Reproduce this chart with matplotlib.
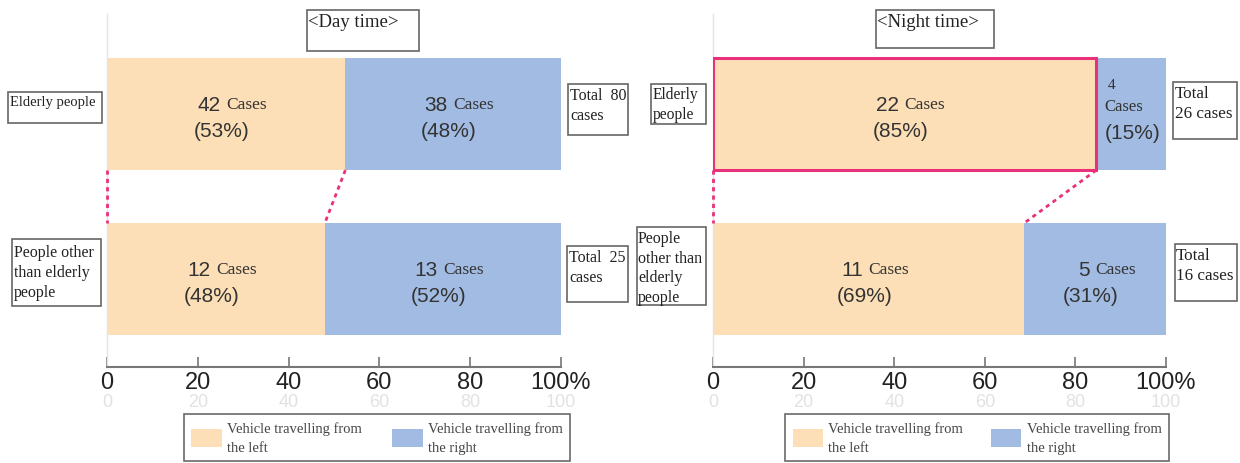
import matplotlib
matplotlib.use('Agg')
import matplotlib.pyplot as plt
from matplotlib.patches import Rectangle, Patch

# data
groups = ['Elderly people', 'People other than elderly people']
day_left = [42, 12]
day_right = [38, 13]
day_left_pct = [53, 48]
day_right_pct = [48, 52]
night_left = [22, 11]
night_right = [4, 5]
night_left_pct = [85, 69]
night_right_pct = [15, 31]
tick_vals = [0, 20, 40, 60, 80, 100]
tick_labels = ['0', '20', '40', '60', '80', '100%']
legend_labels = ['Vehicle travelling from\nthe left', 'Vehicle travelling from\nthe right']

ORANGE = '#FCDFB6'
BLUE = '#A2BBE2'
PINK = '#E8317A'
SANS = ['Liberation Sans Narrow', 'Liberation Sans', 'DejaVu Sans']
SERIF = ['Liberation Serif', 'DejaVu Serif']

W, H = 1240, 464
fig = plt.figure(figsize=(W / 100, H / 100), dpi=100)


def px(x, y):
    return x / W, 1 - y / H


def box(x0, y0, x1, y1, text, size=11.5, padx=2, pady=3, ls=1.35):
    fx, fy = px(x0, y1)
    fig.add_artist(Rectangle((fx, fy), (x1 - x0) / W, (y1 - y0) / H,
                             transform=fig.transFigure, fill=False,
                             edgecolor='#666666', linewidth=1.2))
    tx, ty = px(x0 + padx, y0 + pady)
    fig.text(tx, ty, text, family=SERIF, fontsize=size, va='top', ha='left',
             color='#222222', linespacing=ls)


def seg_label(ax, xc, y, n, pct, narrow):
    if narrow:
        ax.annotate(str(n), (xc, y), xytext=(-14, 21), textcoords='offset points',
                    family=SERIF, fontsize=11, ha='center', va='center', color='#333')
        ax.annotate('Cases', (xc, y), xytext=(-19, 6), textcoords='offset points',
                    family=SERIF, fontsize=12, ha='left', va='center', color='#333')
        ax.annotate('(%d%%)' % pct, (xc, y), xytext=(1, -13), textcoords='offset points',
                    family=SANS, fontsize=15, ha='center', va='center', color='#333')
    else:
        ax.annotate(str(n), (xc, y), xytext=(-4, 7), textcoords='offset points',
                    family=SANS, fontsize=15, ha='right', va='center', color='#333')
        ax.annotate('Cases', (xc, y), xytext=(0, 7.5), textcoords='offset points',
                    family=SERIF, fontsize=12.5, ha='left', va='center', color='#333')
        ax.annotate('(%d%%)' % pct, (xc, y), xytext=(-3, -12), textcoords='offset points',
                    family=SANS, fontsize=15, ha='center', va='center', color='#333')


def panel(rect, left, right, lpct, rpct, highlight, leg_anchor, colsp):
    ax = fig.add_axes(rect)
    ypos = [1, 0]
    h = 0.68
    shares = [100 * l / (l + r) for l, r in zip(left, right)]
    for i in range(len(groups)):
        s = shares[i]
        ec = PINK if highlight == i else 'none'
        lw = 2.2 if highlight == i else 0
        ax.barh(ypos[i], s, height=h, color=ORANGE, edgecolor=ec, linewidth=lw,
                zorder=3 if highlight == i else 2)
        ax.barh(ypos[i], 100 - s, left=s, height=h, color=BLUE, linewidth=0, zorder=1)
        seg_label(ax, s / 2, ypos[i], left[i], lpct[i], False)
        seg_label(ax, s + (100 - s) / 2, ypos[i], right[i], rpct[i], (100 - s) < 20)

    # connector lines between the two bars
    y_top = ypos[0] - h / 2
    y_bot = ypos[1] + h / 2
    ax.plot([0, 0], [y_top, y_bot], color=PINK, lw=2, ls=(0, (1.5, 1.5)), clip_on=False, zorder=4)
    ax.plot([shares[0], shares[1]], [y_top, y_bot], color=PINK, lw=2, ls=(0, (1.5, 1.5)),
            clip_on=False, zorder=4)

    ax.set_xlim(0, 100)
    ax.set_ylim(-0.533, 1.606)
    ax.set_yticks([])
    ax.set_xticks(tick_vals)
    ax.set_xticklabels(tick_labels, family=SANS, fontsize=17, color='#222')
    ax.tick_params(axis='x', direction='in', length=7, width=1.2, color='#777', pad=3)
    for sp in ['top', 'right']:
        ax.spines[sp].set_visible(False)
    ax.spines['bottom'].set_color('#777')
    ax.spines['bottom'].set_linewidth(1.5)
    ax.spines['left'].set_color('#e4e4e4')
    ax.spines['left'].set_linewidth(1)

    # faint duplicate labels underneath
    for v in tick_vals:
        ax.text(v, -0.097, str(v), transform=ax.get_xaxis_transform(), family=SANS,
                fontsize=13, color='#e2e2e2', ha='center', va='center')

    handles = [Patch(facecolor=ORANGE), Patch(facecolor=BLUE)]
    leg = ax.legend(handles, legend_labels, loc='upper center', ncol=2,
                    bbox_to_anchor=leg_anchor, bbox_transform=fig.transFigure,
                    prop={'family': SERIF, 'size': 10.5}, frameon=True, fancybox=False,
                    handlelength=2.1, handleheight=1.5, handletextpad=0.35,
                    borderaxespad=0, borderpad=0.5, columnspacing=colsp)
    leg.get_frame().set_edgecolor('#444444')
    leg.get_frame().set_linewidth(1.2)
    for t in leg.get_texts():
        t.set_color('#444')
        t.set_linespacing(1.55)
    return ax


def frac_rect(x0, x1, y0, y1):
    return [x0 / W, 1 - y1 / H, (x1 - x0) / W, (y1 - y0) / H]


panel(frac_rect(107, 561, 15, 368), day_left, day_right, day_left_pct, day_right_pct,
      None, (377 / W, 1 - 415 / H), 2.1)
panel(frac_rect(713, 1166, 15, 368), night_left, night_right, night_left_pct, night_right_pct,
      0, (977 / W, 1 - 415 / H), 1.9)

# title boxes
box(307, 11, 419, 52, '<Day time>', size=13.5, padx=1, pady=3)
box(876, 11, 994, 49, '<Night time>', size=13.5, padx=1, pady=3)

# category and total boxes
box(8, 93, 102, 124, 'Elderly people', size=10.5, padx=2, pady=3)
box(12, 240, 101, 307, 'People other\nthan elderly\npeople', size=11.5, padx=2, pady=5)
box(568, 85, 628, 136, 'Total  80\ncases', size=11.5, padx=2, pady=3)
box(567, 247, 628, 303, 'Total  25\ncases', size=11.5, padx=2, pady=3)
box(651, 85, 706, 125, 'Elderly\npeople', size=11.2, padx=2, pady=2, ls=1.3)
box(637, 228, 706, 306, 'People\nother than\nelderly\npeople', size=11.5, padx=1, pady=3, ls=1.3)
box(1173, 83, 1237, 140, 'Total\n26 cases', size=12.3, padx=2, pady=3, ls=1.3)
box(1175, 245, 1237, 302, 'Total\n16 cases', size=12.3, padx=1, pady=3, ls=1.3)

fig.savefig('out.png', dpi=100)
